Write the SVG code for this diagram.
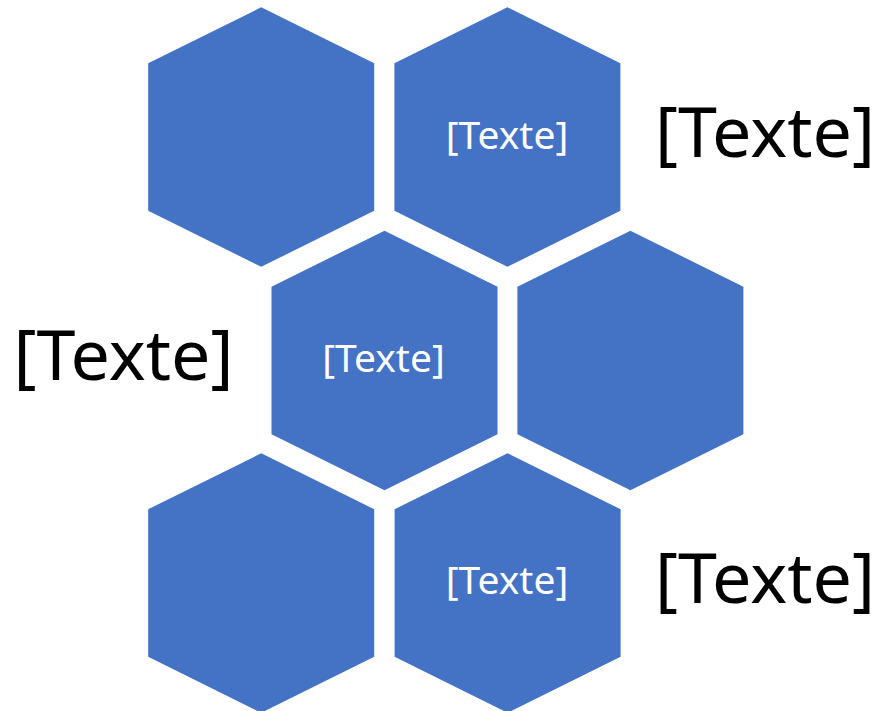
<svg xmlns="http://www.w3.org/2000/svg" width="879" height="711" viewBox="0 0 879 711">
<style>
.hex{fill:#4472C4;}
.wt{fill:#FFFFFF;font-family:"Noto Sans","Open Sans","DejaVu Sans",sans-serif;font-size:39px;text-anchor:middle;}
.bt{fill:#000000;font-family:"Noto Sans","Open Sans","DejaVu Sans",sans-serif;font-size:70px;text-anchor:middle;}
</style>
<defs>
<polygon id="hexshape" points="0,0 113,56 113,203.5 0,259.5 -113,203.5 -113,56"/>
</defs>
<rect width="879" height="711" fill="#FFFFFF"/>
<g id="hex1"><use href="#hexshape" class="hex" x="261.2" y="7.3"/></g>
<g id="hex2"><use href="#hexshape" class="hex" x="507.4" y="7.3"/><text class="wt" x="507" y="149">[Texte]</text></g>
<g id="hex3"><use href="#hexshape" class="hex" x="384.5" y="230.7"/><text class="wt" x="383.5" y="371.5">[Texte]</text></g>
<g id="hex4"><use href="#hexshape" class="hex" x="630.4" y="230.7"/></g>
<g id="hex5"><use href="#hexshape" class="hex" x="261.2" y="453.3"/></g>
<g id="hex6"><use href="#hexshape" class="hex" x="507.6" y="453.3"/><text class="wt" x="507" y="594">[Texte]</text></g>
<g id="label1"><text class="bt" x="765" y="157">[Texte]</text></g>
<g id="label2"><text class="bt" x="123.5" y="380">[Texte]</text></g>
<g id="label3"><text class="bt" x="765" y="603">[Texte]</text></g>
<g id="connectors"></g>
</svg>
